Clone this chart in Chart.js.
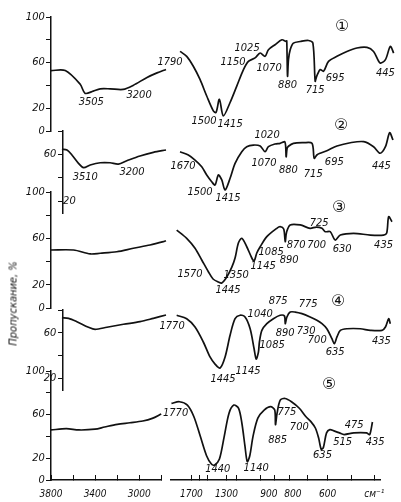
<!DOCTYPE html>
<html>
<head>
<meta charset="utf-8">
<script src="https://cdn.jsdelivr.net/npm/chart.js@4.4.1/dist/chart.umd.min.js"></script>
<style>
html,body{margin:0;padding:0;background:#fff;}
#wrap{position:relative;width:401px;height:502px;overflow:hidden;}
#wrap canvas{position:absolute;left:0;top:0;}
#ytitle{position:absolute;left:-42px;top:297px;width:110px;text-align:center;transform:rotate(-90deg);
  font:italic 11px "Liberation Sans Narrow","DejaVu Sans Condensed",sans-serif;color:#111;}
</style>
</head>
<body>
<div id="wrap">
  <canvas id="c1" width="401" height="502"></canvas>
  <canvas id="c2" width="401" height="502"></canvas>
  <canvas id="c3" width="401" height="502"></canvas>
  <canvas id="c4" width="401" height="502"></canvas>
  <canvas id="c5" width="401" height="502"></canvas>
  <div id="ytitle">Пропускание, %</div>
</div>
<script>
/* ── spectra: [wavenumber cm-1, transmission %] ── */
const s1Left=[[3800,53],[3676,53],[3546,41],[3503,33],[3433,35],[3372,37],[3286,37],[3173,36.5],[3086,40],[2965,47],[2878,51],[2800,54]];
const s1Right=[[1932,69.8],[1840,65.5],[1753,56.8],[1669,45.2],[1589,30.7],[1514,17.7],[1484,16.3],[1448,27.8],[1407,13.3],[1339,25],[1275,39.4],[1214,53.9],[1171,61.1],[1115,64.1],[1074,68.4],[1036,65.5],[1011,71.3],[963,75.7],[916,80],[888,78.5],[884,79],[879,48],[873,62.6],[862,71.3],[842,77.1],[801,78.5],[754,79.4],[730,77.1],[718,43.7],[712,47],[706,49.6],[692,53.9],[675,52.4],[651,61.1],[612,65.5],[569,69.8],[529,72.8],[491,73.3],[468,69.8],[446,59.7],[429,62.6],[414,74.2],[404,68.4]];

const s2Left=[[3705,64.4],[3661,63.8],[3618,59.5],[3561,52.4],[3517,48.7],[3459,51],[3372,52.9],[3286,52.9],[3214,51.8],[3141,54.6],[3026,58.7],[2910,61.8],[2800,63.8]];
const s2Right=[[1932,62.3],[1818,59.5],[1731,55.2],[1648,49.5],[1589,42.4],[1532,36.7],[1495,33.9],[1459,42.4],[1423,38.2],[1389,29.6],[1339,39.6],[1291,52.4],[1229,62.3],[1185,66.6],[1129,68],[1074,67.2],[1036,62.3],[1011,66.6],[963,68.9],[928,69.5],[896,70.6],[888,58],[882,65],[873,67],[842,69.5],[782,70],[735,69.5],[723,56.7],[709,59.5],[692,61],[659,63.2],[612,67.2],[555,70],[503,70.9],[468,66.6],[446,61],[429,66.6],[416,78.5],[406,72.3]];

const s3Left=[[3800,50],[3604,50],[3459,46.6],[3372,47.2],[3228,48.5],[3084,51.5],[2939,54.3],[2823,57.2],[2800,58]];
const s3Right=[[1980,67.2],[1840,60.1],[1731,51.5],[1648,41.4],[1570,31.3],[1517,25],[1459,22.4],[1423,21.6],[1372,26.7],[1322,35.3],[1291,43.1],[1260,56],[1229,60.1],[1185,52.8],[1142,43.1],[1123,40.5],[1101,47.4],[1074,52.8],[1023,61.5],[951,68.7],[928,70.1],[904,68.1],[894,57.2],[885,65.5],[862,71.6],[801,71.6],[745,68.7],[712,69.8],[683,68.7],[667,65.8],[643,65.8],[620,58.6],[597,62.9],[542,64.4],[479,62.9],[435,62.9],[425,64.7],[419,78.7],[409,74.4]];

const s4Left=[[3705,73.3],[3647,72.7],[3575,69.8],[3474,64.9],[3416,63.1],[3314,64.9],[3170,67.5],[3026,69.8],[2910,72.7],[2800,75.6]];
const s4Right=[[1980,75.4],[1840,72.4],[1731,65.1],[1629,52],[1551,38.9],[1495,32.7],[1441,29.2],[1389,38.9],[1339,57.9],[1291,72.4],[1244,75.4],[1200,73.9],[1156,63.6],[1123,46.1],[1106,37.1],[1088,43.2],[1080,52],[1061,62.2],[1023,68],[975,72.4],[928,75.4],[899,74.7],[894,68],[883,73.9],[862,78.2],[831,78.2],[791,76.8],[745,73.9],[709,71],[683,68],[659,63.6],[635,54.9],[624,50.5],[612,56.4],[597,62.2],[569,63.6],[516,63.6],[479,62.2],[440,62.2],[429,65.1],[419,72.4],[414,68]];

const s5Left=[[3800,45.9],[3661,47.1],[3546,45.9],[3401,46.6],[3314,48.6],[3199,51.1],[3084,52.5],[2967,54.1],[2881,56.5],[2800,60.6]];
const s5Right=[[1980,70.3],[1863,71.8],[1753,68.7],[1669,58.3],[1589,40.3],[1514,22.3],[1459,14.7],[1423,13.8],[1372,19.2],[1322,40.3],[1275,61.3],[1229,68.7],[1185,65.8],[1156,52.3],[1129,31.3],[1109,16.8],[1088,22.3],[1061,40.3],[1023,56.8],[975,64.2],[928,67.3],[899,64.2],[894,50.7],[883,61.3],[862,73.2],[831,74.8],[791,71.8],[745,65.8],[709,58.3],[683,53.8],[659,47.7],[643,38.7],[630,28.2],[620,29.7],[605,43.2],[590,46.2],[569,44.8],[548,43.2],[529,41.7],[491,43.2],[446,43.2],[435,41.7],[426,53.2]];

/* band labels: [wavenumber, transmission, text] */
const ann1=[[3450,25.2,'3505'],[3034,31.3,'3200'],[2765,60,'1790'],[1620,8.7,'1500'],[1339,6,'1415'],[1310,60,'1150'],[1182,73,'1025'],[1006,54.8,'1070'],[879,40,'880'],[718,35.7,'715'],[620,46,'695'],[429,50.4,'445'],[589,91.3,'①']];
const ann2=[[3640,20,'20'],[3502,40.7,'3510'],[3095,45,'3200'],[1890,50.1,'1670'],[1669,27.9,'1500'],[1359,22.8,'1415'],[1021,76.6,'1020'],[1044,52.7,'1070'],[873,46.7,'880'],[728,43.3,'715'],[624,53.5,'695'],[442,50.1,'445'],[593,84.3,'②']];
const ann3=[[1796,29.3,'1570'],[1359,15.5,'1445'],[1281,28.4,'1350'],[1051,36.2,'1145'],[991,48.3,'1085'],[869,41.4,'890'],[825,54.3,'870'],[697,73.3,'725'],[710,54.3,'700'],[589,50.9,'630'],[435,54.3,'435'],[602,86.2,'③']];
const ann4=[[2747,66,'1770'],[1410,19.6,'1445'],[1174,26.6,'1145'],[984,49.4,'1085'],[1074,76.5,'1040'],[942,87.9,'875'],[894,59.9,'890'],[756,85.2,'775'],[767,61.6,'730'],[707,53.7,'700'],[620,43.2,'635'],[442,52.9,'435'],[606,87,'④']];
const ann5=[[1918,61.3,'1770'],[1389,9.9,'1440'],[1036,10.8,'1140'],[879,36.9,'885'],[819,62.2,'775'],[745,48.6,'700'],[624,22.5,'635'],[535,35.1,'515'],[490,50.5,'475'],[417,35.1,'435'],[593,87.4,'⑤']];

/* axis ticks */
const leftTicks=[3800,3600,3400,3200,3000,2800];
const leftLabels=[3800,3400,3000];
const rightTicks=[1700,1600,1500,1300,1200,1000,900,800,700,600,500,420];
const rightLabels={1700:'1700',1300:'1300',900:'900\u2007\u2007',800:'\u2007800',600:'600',420:'см⁻¹'};
const fullTicks=[0,20,40,60,80,100], fullLabels=[0,20,60,100];
const partTicks=[20,40,60,80];

const INK='#111';
const FAM='"Liberation Sans Narrow","DejaVu Sans Condensed",sans-serif';
const axisFont={family:FAM,size:11,style:'italic'};
const xFont={family:FAM,size:10,style:'italic'};

function trace(pts,axis){
  return {data:pts.map(([x,y])=>({x,y})),xAxisID:axis,yAxisID:'y',
    borderColor:INK,borderWidth:1.7,pointRadius:0,tension:0.3,clip:false,fill:false};
}

function notesPlugin(items){
  return {
    id:'notes',
    afterDatasetsDraw(chart){
      const{ctx,scales}=chart;
      ctx.save();
      ctx.fillStyle=INK;ctx.textAlign='center';ctx.textBaseline='middle';
      items.forEach(([nu,t,txt])=>{
        const xs=nu>1995?scales.xl:scales.xr;
        ctx.font=/[①-⑤]/.test(txt)?'16px "DejaVu Sans",sans-serif':'italic 11px '+FAM;
        ctx.fillText(txt,xs.getPixelForValue(nu),scales.y.getPixelForValue(t));
      });
      ctx.restore();
    }
  };
}

function xScales(show){
  const fit=s=>{s.height=show?22:0;};
  const common={axis:'x',position:'bottom',stack:'x',reverse:true,afterFit:fit,
    border:{display:show,color:INK,width:1.5},
    grid:{display:show,drawOnChartArea:false,tickLength:-5,color:INK,lineWidth:1}};
  return {
    xl:{...common,type:'linear',stackWeight:115,min:2800,max:3800,
      afterBuildTicks:s=>{s.ticks=leftTicks.map(v=>({value:v}));},
      ticks:{display:show,padding:13,maxRotation:0,autoSkip:false,color:INK,font:xFont,
        callback:v=>leftLabels.includes(v)?String(v):''}},
    xg:{axis:'x',type:'linear',position:'bottom',stack:'x',stackWeight:10,afterFit:fit,
      border:{display:false},grid:{display:false},ticks:{display:false}},
    xr:{...common,type:'logarithmic',stackWeight:219,min:400,max:1990,
      afterBuildTicks:s=>{s.ticks=rightTicks.map(v=>({value:v}));},
      ticks:{display:show,padding:13,maxRotation:0,autoSkip:false,color:INK,font:xFont,
        callback:v=>rightLabels[v]||''}}
  };
}

function yScale(c){
  return {axis:'y',type:'linear',position:{xl:c.at},min:c.min,max:c.max,
    afterBuildTicks:s=>{s.ticks=c.ticks.map(v=>({value:v}));},
    border:{color:INK,width:1.5},
    grid:{drawOnChartArea:false,tickLength:4,color:INK,lineWidth:1},
    ticks:{color:INK,font:axisFont,padding:2,callback:v=>c.labels.includes(v)?String(v)+'  ':''}};
}

const panels=[
  {id:'c1',left:s1Left,right:s1Right,notes:ann1,pad:[17,371],y:{at:3800,min:0,max:100,ticks:fullTicks,labels:fullLabels}},
  {id:'c2',left:s2Left,right:s2Right,notes:ann2,pad:[131,289],y:{at:3700,min:10,max:80,ticks:partTicks,labels:[60]}},
  {id:'c3',left:s3Left,right:s3Right,notes:ann3,pad:[192,194],y:{at:3800,min:0,max:100,ticks:fullTicks,labels:fullLabels}},
  {id:'c4',left:s4Left,right:s4Right,notes:ann4,pad:[310,112],y:{at:3700,min:10,max:80,ticks:partTicks,labels:[20,60]}},
  {id:'c5',left:s5Left,right:s5Right,notes:ann5,pad:[371,0],showX:true,y:{at:3800,min:0,max:100,ticks:fullTicks,labels:fullLabels}}
];

panels.forEach(p=>{
  new Chart(document.getElementById(p.id),{
    type:'line',
    data:{datasets:[trace(p.left,'xl'),trace(p.right,'xr')]},
    plugins:[notesPlugin(p.notes)],
    options:{
      responsive:false,animation:false,events:[],
      layout:{padding:{left:51,right:6,top:p.pad[0],bottom:p.pad[1]}},
      plugins:{legend:{display:false},tooltip:{enabled:false}},
      scales:{...xScales(!!p.showX),y:yScale(p.y)}
    }
  });
});
</script>
</body>
</html>
